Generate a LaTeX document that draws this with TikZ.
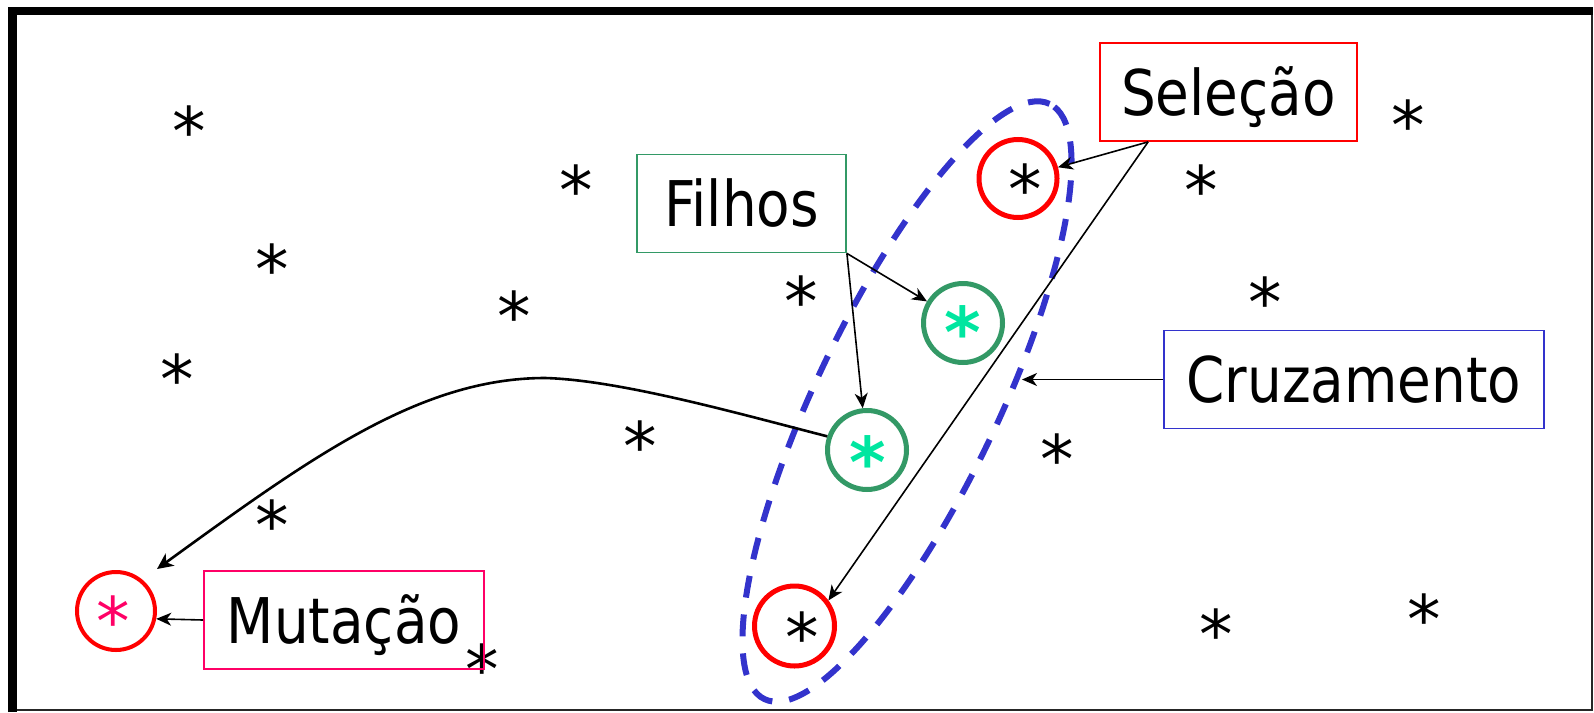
\documentclass[tikz,border=0pt]{standalone}
\usepackage{fontspec}
\newfontfamily\lblfont[FakeStretch=0.87]{DejaVu Sans}
\newfontfamily\astfont{DejaVu Sans}
\usetikzlibrary{arrows.meta}
\definecolor{selred}{RGB}{255,0,0}
\definecolor{filgreen}{RGB}{51,153,102}
\definecolor{crublue}{RGB}{51,51,204}
\definecolor{mutpink}{RGB}{255,0,102}
\definecolor{mint}{RGB}{0,230,160}
\newcommand\astr{\smash{\raisebox{-0.5em}{*}}}
\begin{document}
\begin{tikzpicture}[x=1pt,y=-1pt,
  lbl/.style={draw, line width=1.8pt, minimum height=98pt, inner sep=0pt,
    font=\lblfont\fontsize{63}{70}\selectfont, text height=46pt, text depth=0pt},
  ring/.style={circle, draw, line width=5pt, inner sep=0pt, minimum size=79pt},
  star/.style={inner sep=0pt, font=\astfont\fontsize{67}{70}\selectfont},
  gstar/.style={inner sep=0pt, text=mint, font=\astfont\bfseries\fontsize{70}{70}\selectfont},
  con/.style={line width=1.6pt, -{Stealth[length=15pt,width=13pt,inset=4.5pt]}},
  curvecon/.style={line width=2.6pt, -{Stealth[length=16pt,width=15pt,inset=4.5pt]}},
]
\useasboundingbox (0,0) rectangle (1594,712);
% frame
\draw[line width=1.2pt, black!85] (1592,11) -- (1592,710) -- (12,710);
\draw[line width=8.3pt] (12.6,712) -- (12.6,11) -- (1593,11);

% dashed ellipse
\draw[crublue, line width=6pt, dash pattern=on 22pt off 17pt, rotate around={64.4:(907,401.5)}]
  (907,401.5) ellipse [x radius=330pt, y radius=91pt];

% scattered asterisks
\node[star] (a1) at (189,122) {\astr};
\node[star] (a2) at (576,181) {\astr};
\node[star] (a3) at (272,260) {\astr};
\node[star] (a4) at (514,307) {\astr};
\node[star] (a5) at (177,370) {\astr};
\node[star] (a6) at (801,292) {\astr};
\node[star] (a7) at (640,437) {\astr};
\node[star] (a8) at (272,516) {\astr};
\node[star] (a9) at (482,660) {\astr};
\node[star] (a10) at (1201,181) {\astr};
\node[star] (a11) at (1408,116) {\astr};
\node[star] (a12) at (1265,293) {\astr};
\node[star] (a13) at (1057,450) {\astr};
\node[star] (a14) at (1216,625) {\astr};
\node[star] (a15) at (1424,610) {\astr};

% circled individuals
\node[ring, draw=selred, minimum size=78pt] (r1) at (1018,178.5) {};
\node[star] (r1s) at (1025,180) {\astr};
\node[ring, draw=selred, minimum size=80pt] (r2) at (794.5,626) {};
\node[star] (r2s) at (802,628) {\astr};
\node[ring, draw=filgreen] (g1) at (963,323) {};
\node[gstar] (g1s) at (963,322) {\astr};
\node[ring, draw=filgreen] (g2) at (867,450) {};
\node[gstar] (g2s) at (868,452) {\astr};
\node[ring, draw=selred, line width=4pt, minimum size=78pt] (m) at (116,611) {};
\node[star, text=mutpink] (ms) at (113,612) {\astr};

% labels
\node[lbl, draw=selred, minimum width=257pt] (sel) at (1228.5,92) {Seleção};
\node[lbl, draw=filgreen, minimum width=209pt] (fil) at (741.5,203.5) {Filhos};
\node[lbl, draw=crublue, minimum width=380pt] (cru) at (1354,379.5) {Cruzamento};
\node[lbl, draw=mutpink, minimum width=280pt] (mut) at (344,620) {Mutação};

% connectors
\coordinate (selo) at ([xshift=49pt]sel.south west);
\coordinate (ellpt) at (1022,379.5);
\coordinate (peak) at (545,378);
\coordinate (mtip) at (157,569);
\draw[con] (selo) -- (r1);
\draw[con] (selo) -- (r2.37);
\draw[con] (fil.south east) -- (g1);
\draw[con] (fil.south east) -- (g2);
\draw[con] (cru.west) -- (ellpt);
\draw[con] (mut.west) -- (m.-11);
\draw[curvecon] (g2.161) .. controls (740,414) and (620,380) .. (peak)
  .. controls (420,378) and (310,458) .. (mtip);
\end{tikzpicture}
\end{document}
